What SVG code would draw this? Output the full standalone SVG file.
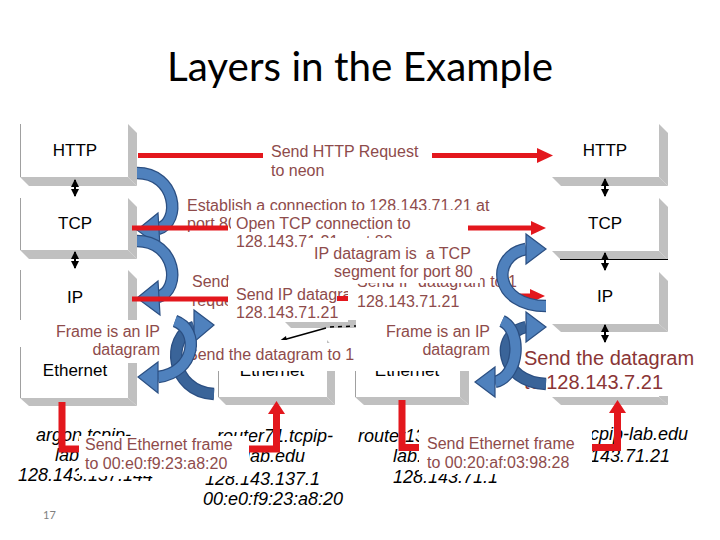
<svg xmlns="http://www.w3.org/2000/svg" width="720" height="540" viewBox="0 0 720 540">
<style>
.face{fill:#fff}
.shd{fill:#c0c0c0}
.edge{stroke:#a0a0a0;stroke-width:1}
.bl{font-family:"Liberation Sans",Arial,sans-serif;font-size:17px;fill:#000;text-anchor:middle}
.lbl{font-family:"Liberation Sans",Arial,sans-serif;font-size:16px;fill:#8e4b4b}
.big{font-family:"Liberation Sans",Arial,sans-serif;font-size:20px;fill:#8a3535}
.host{font-family:"Liberation Sans",Arial,sans-serif;font-size:18px;font-style:italic;fill:#000}
.wb{fill:#fff}
.rl{stroke:#e3171d;stroke-width:5;fill:none}
.rL{stroke:#e3171d;stroke-width:7;fill:none;stroke-linejoin:miter}
.rh{fill:#e3171d}
.bo{fill:none;stroke:#2b4f82;stroke-width:12.5}
.bi{fill:none;stroke:#4f81bd;stroke-width:10}
.bd{fill:none;stroke:#3a6499;stroke-width:10}
.hd{fill:#4f81bd;stroke:#2b4f82;stroke-width:1.2}
.dbl{stroke:#000;stroke-width:2;marker-start:url(#ah);marker-end:url(#ah)}
</style>
<defs>
<marker id="ah" markerUnits="userSpaceOnUse" markerWidth="8" markerHeight="8" refX="7" refY="4" orient="auto-start-reverse"><path d="M0,0 L8,4 L0,8 Z" fill="#000"/></marker>
</defs>
<rect width="720" height="540" fill="#fff"/>
<text x="360" y="81" text-anchor="middle" font-family="Lato,'Open Sans',sans-serif" font-size="40" textLength="386" lengthAdjust="spacingAndGlyphs" fill="#000">Layers in the Example</text>

<g id="l-http"><rect class="face" x="20" y="124" width="108" height="53"/><polygon class="shd" points="128,124 137,133 137,186 128,177"/><polygon class="shd" points="20,177 128,177 137,186 29,186"/><line class="edge" x1="20.5" y1="124" x2="20.5" y2="177"/><text class="bl" x="75" y="156">HTTP</text></g>
<g id="l-tcp"><rect class="face" x="20" y="198" width="108" height="52"/><polygon class="shd" points="128,198 137,207 137,259 128,250"/><polygon class="shd" points="20,250 128,250 137,259 29,259"/><line class="edge" x1="20.5" y1="198" x2="20.5" y2="250"/><text class="bl" x="75" y="229">TCP</text></g>
<g id="l-ip"><rect class="face" x="20" y="270" width="108" height="52"/><polygon class="shd" points="128,270 137,279 137,331 128,322"/><polygon class="shd" points="20,322 128,322 137,331 29,331"/><line class="edge" x1="20.5" y1="270" x2="20.5" y2="322"/><text class="bl" x="75" y="303">IP</text></g>
<g id="l-eth"><rect class="face" x="20" y="340" width="108" height="58"/><polygon class="shd" points="128,340 137,349 137,406 128,398"/><polygon class="shd" points="20,398 128,398 137,406 29,406"/><line class="edge" x1="20.5" y1="347" x2="20.5" y2="398"/><text class="bl" x="75" y="376">Ethernet</text></g>

<g id="r-http"><rect class="face" x="552" y="124" width="107" height="53"/><polygon class="shd" points="659,124 668,133 668,186 659,177"/><polygon class="shd" points="552,177 659,177 668,186 561,186"/><text class="bl" x="605" y="156">HTTP</text></g>
<g id="r-tcp"><rect class="face" x="552" y="198" width="107" height="53"/><polygon class="shd" points="659,198 668,207 668,260 659,251"/><polygon class="shd" points="552,251 659,251 668,260 561,260"/><line x1="560" y1="259.5" x2="668" y2="259.5" stroke="#000" stroke-width="1"/><text class="bl" x="605" y="229">TCP</text></g>
<g id="r-ip"><rect class="face" x="552" y="272" width="107" height="52"/><polygon class="shd" points="659,272 668,281 668,332 659,324"/><polygon class="shd" points="552,324 659,324 668,332 561,332"/><text class="bl" x="605" y="302">IP</text></g>
<g id="r-eth"><rect class="face" x="552" y="343" width="107" height="54"/><polygon class="shd" points="659,343 668,352 668,405 659,397"/><polygon class="shd" points="552,397 659,397 668,405 561,405"/></g>

<g id="m-ip"><polygon class="shd" points="283,320 356,320 356,328 291,328"/><line x1="326" y1="328" x2="283" y2="340" stroke="#000" stroke-width="1.5"/><polygon points="278,342 286,336 287,342" fill="#000"/><line x1="330" y1="327" x2="356" y2="326" stroke="#000" stroke-width="1.5" stroke-dasharray="4 4"/></g>
<g id="m-eth1"><rect class="face" x="218" y="340" width="109" height="57"/><polygon class="shd" points="327,340 335,349 335,405 327,397"/><polygon class="shd" points="218,397 327,397 335,405 226,405"/><line class="edge" x1="218.5" y1="368" x2="218.5" y2="397"/><text class="bl" x="272" y="376">Ethernet</text></g>
<g id="m-eth2"><rect class="face" x="355" y="340" width="105" height="57"/><polygon class="shd" points="460,340 469,349 469,405 460,397"/><polygon class="shd" points="355,397 460,397 469,405 364,405"/><line class="edge" x1="355.5" y1="368" x2="355.5" y2="397"/><text class="bl" x="407" y="376">Ethernet</text></g>

<g id="conn-double">
<line class="dbl" x1="75" y1="180" x2="75" y2="196"/>
<line class="dbl" x1="75" y1="252" x2="75" y2="268"/>
<line class="dbl" x1="605" y1="179" x2="605" y2="196"/>
<line class="dbl" x1="605" y1="253" x2="605" y2="270"/>
<line class="dbl" x1="605" y1="325" x2="605" y2="342"/>
</g>

<g id="hosts">
<text class="host" x="36" y="441">argon.tcpip-</text>
<text class="host" x="55" y="461">lab.edu</text>
<text class="host" x="18" y="481">128.143.137.144</text>
<text class="host" x="217" y="442">router71.tcpip-</text>
<text class="host" x="246" y="462">lab.edu</text>
<text class="host" x="205" y="485">128.143.137.1</text>
<text class="host" x="203" y="505">00:e0:f9:23:a8:20</text>
<text class="host" x="358" y="442">router137.tcpip-</text>
<text class="host" x="393" y="462">lab.edu</text>
<text class="host" x="393" y="483">128.143.71.1</text>
<text class="host" x="688" y="440" text-anchor="end">neon.tcpip-lab.edu</text>
<text class="host" x="670" y="462" text-anchor="end">128.143.71.21</text>
</g>

<g id="conn-red-bottom">
<path class="rL" d="M62,402 V449 H276.5 V413"/>
<polygon class="rh" points="268,414 276.5,401 285,414"/>
<path class="rL" d="M402,400 V447.5 H617.5 V412"/>
<polygon class="rh" points="609,413 617.5,400 626,413"/>
</g>

<g id="t-http"><text class="lbl" x="271" y="157">Send HTTP Request</text><text class="lbl" x="271" y="176">to neon</text></g>
<g id="t-establish"><text class="lbl" x="187" y="211">Establish a connection to 128.143.71.21 at</text><text class="lbl" x="187" y="229">port 80</text></g>
<g id="t-open"><rect class="wb" x="231" y="210" width="240" height="40"/><text class="lbl" x="236" y="229">Open TCP connection to</text><text class="lbl" x="236" y="247">128.143.71.21 port 80</text></g>
<g id="t-send-req"><text class="lbl" x="192" y="287">Send</text><text class="lbl" x="192" y="306">request</text></g>
<g id="t-sendip1"><rect class="wb" x="228" y="280" width="120" height="42"/><text class="lbl" x="236" y="300">Send IP datagram to</text><text class="lbl" x="236" y="318">128.143.71.21</text></g>
<rect class="rh" x="337" y="296" width="11" height="5"/>
<g id="t-sendip2"><rect class="wb" x="348" y="268" width="140" height="48"/><text class="lbl" x="357" y="287">Send IP datagram to 1</text><text class="lbl" x="357" y="307">128.143.71.21</text></g>
<g id="t-ipdg"><rect class="wb" x="305" y="238" width="175" height="45"/><text class="lbl" x="314" y="259" xml:space="preserve">IP datagram is  a TCP</text><text class="lbl" x="334" y="277">segment for port 80</text></g>
<g id="t-frame1"><rect class="wb" x="15" y="320" width="152" height="26"/><rect class="wb" x="88" y="346" width="79" height="17"/><text class="lbl" x="160" y="337" text-anchor="end">Frame is an IP</text><text class="lbl" x="160" y="355" text-anchor="end">datagram</text></g>
<g id="t-frame2"><rect class="wb" x="372" y="318" width="122" height="53"/><text class="lbl" x="490" y="337" text-anchor="end">Frame is an IP</text><text class="lbl" x="490" y="355" text-anchor="end">datagram</text></g>
<g id="t-senddg1"><rect class="wb" x="182" y="343" width="175" height="28"/><text class="lbl" x="187" y="360">Send the datagram to 1</text></g>
<g id="t-senddg2"><rect class="wb" x="518" y="343" width="182" height="53"/><text class="big" x="524" y="365">Send the datagram</text><text class="big" x="524" y="389">to 128.143.7.21</text></g>
<g id="t-eth1"><rect class="wb" x="79" y="436" width="170" height="40"/><text class="lbl" x="85" y="450">Send Ethernet frame</text><text class="lbl" x="85" y="469">to 00:e0:f9:23:a8:20</text></g>
<g id="t-eth2"><rect class="wb" x="419" y="424" width="173" height="50"/><text class="lbl" x="427" y="449">Send Ethernet frame</text><text class="lbl" x="427" y="468">to 00:20:af:03:98:28</text></g>

<g id="conn-red-ip-right"><line class="rl" x1="515" y1="296" x2="532" y2="296"/><polygon class="rh" points="530,289 545,296 530,303"/></g>

<g id="conn-blue">
<path class="bo" d="M137,173 C176,173 182,222 158,229"/><path class="bi" d="M137,173 C176,173 182,222 158,229"/><polygon class="hd" points="137,230 158,213 160,247"/>
<path class="bo" d="M137,241 C176,241 182,290 158,297"/><path class="bi" d="M137,241 C176,241 182,290 158,297"/><polygon class="hd" points="137,298 158,281 160,315"/>
<path class="bo" d="M214,394 C170,392 166,336 194,327"/><path class="bd" d="M214,394 C170,392 166,336 194,327"/><polygon class="hd" points="214,325 194,310 194,342"/>
<path class="bo" d="M175,321 C200,330 196,372 158,377"/><path class="bi" d="M175,321 C200,330 196,372 158,377"/><polygon class="hd" points="138,377 158,362 158,393"/>
<path class="bo" d="M546,306 C494,306 490,256 526,249"/><path class="bi" d="M546,306 C494,306 490,256 526,249"/><polygon class="hd" points="546,249 526,234 526,264"/>
<path class="bo" d="M546,384 C500,382 494,334 526,327"/><path class="bd" d="M546,384 C500,382 494,334 526,327"/><polygon class="hd" points="546,327 526,312 526,342"/>
<path class="bo" d="M502,321 C522,330 520,376 495,382"/><path class="bi" d="M502,321 C522,330 520,376 495,382"/><polygon class="hd" points="475,382 495,367 495,397"/>
</g>

<g id="conn-red">
<line class="rl" x1="138" y1="155.5" x2="263" y2="155.5"/>
<line class="rl" x1="432" y1="155.5" x2="538" y2="155.5"/><polygon class="rh" points="537,148 553,155.5 537,163"/>
<line class="rl" x1="132" y1="228" x2="228" y2="228"/>
<line class="rl" x1="468" y1="228" x2="532" y2="228"/><polygon class="rh" points="531,221 546,228 531,235"/>
<line class="rl" x1="132" y1="299" x2="228" y2="299"/>
</g>

<text x="43" y="519" font-family="Lato,'Open Sans',sans-serif" font-size="11" fill="#7f7f7f">17</text>
</svg>
